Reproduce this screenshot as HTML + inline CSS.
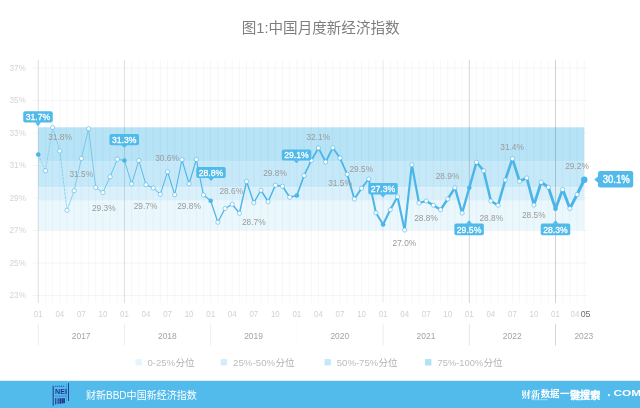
<!DOCTYPE html>
<html lang="zh"><head><meta charset="utf-8"><title>图1:中国月度新经济指数</title>
<style>html,body{margin:0;padding:0;background:#fff;}body{width:640px;height:408px;overflow:hidden;font-family:"Liberation Sans","Noto Sans CJK SC",sans-serif;}svg{display:block;will-change:transform;}</style>
</head><body>
<svg width="640" height="408" viewBox="0 0 640 408">
<rect width="640" height="408" fill="#fff"/>
<path d="M32.5 68.00H587.5M32.5 100.50H587.5M32.5 133.00H587.5M32.5 165.50H587.5M32.5 198.00H587.5M32.5 230.50H587.5M32.5 263.00H587.5M32.5 295.50H587.5" stroke="#000" stroke-opacity="0.045" stroke-width="1" fill="none"/>
<rect x="38.25" y="127.3" width="546.0" height="34.45" fill="#b7e3f7"/>
<rect x="38.25" y="161.75" width="546.0" height="25.75" fill="#c6e9f9"/>
<rect x="38.25" y="187.5" width="546.0" height="13.25" fill="#daf1fb"/>
<rect x="38.25" y="200.75" width="546.0" height="29.44999999999999" fill="#eaf7fd"/>
<path d="M45.43 59.8V303M52.62 59.8V303M59.80 59.8V303M66.99 59.8V303M74.17 59.8V303M81.36 59.8V303M88.54 59.8V303M95.72 59.8V303M102.91 59.8V303M110.09 59.8V303M117.28 59.8V303M131.64 59.8V303M138.83 59.8V303M146.01 59.8V303M153.20 59.8V303M160.38 59.8V303M167.57 59.8V303M174.75 59.8V303M181.93 59.8V303M189.12 59.8V303M196.30 59.8V303M203.49 59.8V303M217.86 59.8V303M225.04 59.8V303M232.22 59.8V303M239.41 59.8V303M246.59 59.8V303M253.78 59.8V303M260.96 59.8V303M268.14 59.8V303M275.33 59.8V303M282.51 59.8V303M289.70 59.8V303M304.07 59.8V303M311.25 59.8V303M318.43 59.8V303M325.62 59.8V303M332.80 59.8V303M339.99 59.8V303M347.17 59.8V303M354.36 59.8V303M361.54 59.8V303M368.72 59.8V303M375.91 59.8V303M390.28 59.8V303M397.46 59.8V303M404.64 59.8V303M411.83 59.8V303M419.01 59.8V303M426.20 59.8V303M433.38 59.8V303M440.57 59.8V303M447.75 59.8V303M454.93 59.8V303M462.12 59.8V303M476.49 59.8V303M483.67 59.8V303M490.86 59.8V303M498.04 59.8V303M505.22 59.8V303M512.41 59.8V303M519.59 59.8V303M526.78 59.8V303M533.96 59.8V303M541.14 59.8V303M548.33 59.8V303M562.70 59.8V303M569.88 59.8V303M577.07 59.8V303M584.25 59.8V303" stroke="#000" stroke-opacity="0.03" stroke-width="1" fill="none"/>
<path d="M38.25 59.8V303" stroke="#000" stroke-opacity="0.13" stroke-width="1" fill="none"/>
<path d="M124.46 59.8V303" stroke="#000" stroke-opacity="0.12" stroke-width="1" fill="none"/>
<path d="M210.67 59.8V303" stroke="#000" stroke-opacity="0.035" stroke-width="1" fill="none"/>
<path d="M296.88 59.8V303" stroke="#000" stroke-opacity="0.035" stroke-width="1" fill="none"/>
<path d="M383.09 59.8V303" stroke="#000" stroke-opacity="0.085" stroke-width="1" fill="none"/>
<path d="M469.30 59.8V303" stroke="#000" stroke-opacity="0.165" stroke-width="1" fill="none"/>
<path d="M555.51 59.8V303" stroke="#000" stroke-opacity="0.175" stroke-width="1" fill="none"/>
<path d="M38.25 323.75V345.5" stroke="#000" stroke-opacity="0.075" stroke-width="1" fill="none"/>
<path d="M124.46 323.75V345.5" stroke="#000" stroke-opacity="0.075" stroke-width="1" fill="none"/>
<path d="M210.67 323.75V345.5" stroke="#000" stroke-opacity="0.065" stroke-width="1" fill="none"/>
<path d="M296.88 323.75V345.5" stroke="#000" stroke-opacity="0.02" stroke-width="1" fill="none"/>
<path d="M383.09 323.75V345.5" stroke="#000" stroke-opacity="0.08" stroke-width="1" fill="none"/>
<path d="M469.30 323.75V345.5" stroke="#000" stroke-opacity="0.1" stroke-width="1" fill="none"/>
<path d="M555.51 323.75V345.5" stroke="#000" stroke-opacity="0.16" stroke-width="1" fill="none"/>
<text x="26" y="70.70" font-family="Liberation Sans, sans-serif" font-size="9.5" fill="#d4d4d4" text-anchor="end" textLength="16.5" lengthAdjust="spacingAndGlyphs">37%</text>
<text x="26" y="103.20" font-family="Liberation Sans, sans-serif" font-size="9.5" fill="#d4d4d4" text-anchor="end" textLength="16.5" lengthAdjust="spacingAndGlyphs">35%</text>
<text x="26" y="135.70" font-family="Liberation Sans, sans-serif" font-size="9.5" fill="#d4d4d4" text-anchor="end" textLength="16.5" lengthAdjust="spacingAndGlyphs">33%</text>
<text x="26" y="168.20" font-family="Liberation Sans, sans-serif" font-size="9.5" fill="#d4d4d4" text-anchor="end" textLength="16.5" lengthAdjust="spacingAndGlyphs">31%</text>
<text x="26" y="200.70" font-family="Liberation Sans, sans-serif" font-size="9.5" fill="#d4d4d4" text-anchor="end" textLength="16.5" lengthAdjust="spacingAndGlyphs">29%</text>
<text x="26" y="233.20" font-family="Liberation Sans, sans-serif" font-size="9.5" fill="#d4d4d4" text-anchor="end" textLength="16.5" lengthAdjust="spacingAndGlyphs">27%</text>
<text x="26" y="265.70" font-family="Liberation Sans, sans-serif" font-size="9.5" fill="#d4d4d4" text-anchor="end" textLength="16.5" lengthAdjust="spacingAndGlyphs">25%</text>
<text x="26" y="298.20" font-family="Liberation Sans, sans-serif" font-size="9.5" fill="#d4d4d4" text-anchor="end" textLength="16.5" lengthAdjust="spacingAndGlyphs">23%</text>
<text x="38.25" y="317.3" font-family="Liberation Sans, sans-serif" font-size="9.6" fill="#d2d2d2" text-anchor="middle" textLength="8.8" lengthAdjust="spacingAndGlyphs">01</text>
<text x="59.80" y="317.3" font-family="Liberation Sans, sans-serif" font-size="9.6" fill="#d2d2d2" text-anchor="middle" textLength="8.8" lengthAdjust="spacingAndGlyphs">04</text>
<text x="81.36" y="317.3" font-family="Liberation Sans, sans-serif" font-size="9.6" fill="#d2d2d2" text-anchor="middle" textLength="8.8" lengthAdjust="spacingAndGlyphs">07</text>
<text x="102.91" y="317.3" font-family="Liberation Sans, sans-serif" font-size="9.6" fill="#d2d2d2" text-anchor="middle" textLength="8.8" lengthAdjust="spacingAndGlyphs">10</text>
<text x="124.46" y="317.3" font-family="Liberation Sans, sans-serif" font-size="9.6" fill="#d2d2d2" text-anchor="middle" textLength="8.8" lengthAdjust="spacingAndGlyphs">01</text>
<text x="146.01" y="317.3" font-family="Liberation Sans, sans-serif" font-size="9.6" fill="#d2d2d2" text-anchor="middle" textLength="8.8" lengthAdjust="spacingAndGlyphs">04</text>
<text x="167.57" y="317.3" font-family="Liberation Sans, sans-serif" font-size="9.6" fill="#d2d2d2" text-anchor="middle" textLength="8.8" lengthAdjust="spacingAndGlyphs">07</text>
<text x="189.12" y="317.3" font-family="Liberation Sans, sans-serif" font-size="9.6" fill="#d2d2d2" text-anchor="middle" textLength="8.8" lengthAdjust="spacingAndGlyphs">10</text>
<text x="210.67" y="317.3" font-family="Liberation Sans, sans-serif" font-size="9.6" fill="#d2d2d2" text-anchor="middle" textLength="8.8" lengthAdjust="spacingAndGlyphs">01</text>
<text x="232.22" y="317.3" font-family="Liberation Sans, sans-serif" font-size="9.6" fill="#d2d2d2" text-anchor="middle" textLength="8.8" lengthAdjust="spacingAndGlyphs">04</text>
<text x="253.78" y="317.3" font-family="Liberation Sans, sans-serif" font-size="9.6" fill="#d2d2d2" text-anchor="middle" textLength="8.8" lengthAdjust="spacingAndGlyphs">07</text>
<text x="275.33" y="317.3" font-family="Liberation Sans, sans-serif" font-size="9.6" fill="#d2d2d2" text-anchor="middle" textLength="8.8" lengthAdjust="spacingAndGlyphs">10</text>
<text x="296.88" y="317.3" font-family="Liberation Sans, sans-serif" font-size="9.6" fill="#d2d2d2" text-anchor="middle" textLength="8.8" lengthAdjust="spacingAndGlyphs">01</text>
<text x="318.43" y="317.3" font-family="Liberation Sans, sans-serif" font-size="9.6" fill="#d2d2d2" text-anchor="middle" textLength="8.8" lengthAdjust="spacingAndGlyphs">04</text>
<text x="339.99" y="317.3" font-family="Liberation Sans, sans-serif" font-size="9.6" fill="#d2d2d2" text-anchor="middle" textLength="8.8" lengthAdjust="spacingAndGlyphs">07</text>
<text x="361.54" y="317.3" font-family="Liberation Sans, sans-serif" font-size="9.6" fill="#d2d2d2" text-anchor="middle" textLength="8.8" lengthAdjust="spacingAndGlyphs">10</text>
<text x="383.09" y="317.3" font-family="Liberation Sans, sans-serif" font-size="9.6" fill="#d2d2d2" text-anchor="middle" textLength="8.8" lengthAdjust="spacingAndGlyphs">01</text>
<text x="404.64" y="317.3" font-family="Liberation Sans, sans-serif" font-size="9.6" fill="#d2d2d2" text-anchor="middle" textLength="8.8" lengthAdjust="spacingAndGlyphs">04</text>
<text x="426.20" y="317.3" font-family="Liberation Sans, sans-serif" font-size="9.6" fill="#d2d2d2" text-anchor="middle" textLength="8.8" lengthAdjust="spacingAndGlyphs">07</text>
<text x="447.75" y="317.3" font-family="Liberation Sans, sans-serif" font-size="9.6" fill="#d2d2d2" text-anchor="middle" textLength="8.8" lengthAdjust="spacingAndGlyphs">10</text>
<text x="469.30" y="317.3" font-family="Liberation Sans, sans-serif" font-size="9.6" fill="#d2d2d2" text-anchor="middle" textLength="8.8" lengthAdjust="spacingAndGlyphs">01</text>
<text x="490.86" y="317.3" font-family="Liberation Sans, sans-serif" font-size="9.6" fill="#d2d2d2" text-anchor="middle" textLength="8.8" lengthAdjust="spacingAndGlyphs">04</text>
<text x="512.41" y="317.3" font-family="Liberation Sans, sans-serif" font-size="9.6" fill="#d2d2d2" text-anchor="middle" textLength="8.8" lengthAdjust="spacingAndGlyphs">07</text>
<text x="533.96" y="317.3" font-family="Liberation Sans, sans-serif" font-size="9.6" fill="#d2d2d2" text-anchor="middle" textLength="8.8" lengthAdjust="spacingAndGlyphs">10</text>
<text x="555.51" y="317.3" font-family="Liberation Sans, sans-serif" font-size="9.6" fill="#d2d2d2" text-anchor="middle" textLength="8.8" lengthAdjust="spacingAndGlyphs">01</text>
<text x="575.00" y="317.3" font-family="Liberation Sans, sans-serif" font-size="9.6" fill="#d2d2d2" text-anchor="middle" textLength="8.8" lengthAdjust="spacingAndGlyphs">04</text>
<text x="585.6" y="317.3" font-family="Liberation Sans, sans-serif" font-size="9.6" fill="#6e6e6e" text-anchor="middle" textLength="9.8" lengthAdjust="spacingAndGlyphs">05</text>
<text x="81.16" y="338.7" font-family="Liberation Sans, sans-serif" font-size="9.9" fill="#a4a4a4" text-anchor="middle" textLength="18.8" lengthAdjust="spacingAndGlyphs">2017</text>
<text x="167.37" y="338.7" font-family="Liberation Sans, sans-serif" font-size="9.9" fill="#a4a4a4" text-anchor="middle" textLength="18.8" lengthAdjust="spacingAndGlyphs">2018</text>
<text x="253.58" y="338.7" font-family="Liberation Sans, sans-serif" font-size="9.9" fill="#a4a4a4" text-anchor="middle" textLength="18.8" lengthAdjust="spacingAndGlyphs">2019</text>
<text x="339.79" y="338.7" font-family="Liberation Sans, sans-serif" font-size="9.9" fill="#a4a4a4" text-anchor="middle" textLength="18.8" lengthAdjust="spacingAndGlyphs">2020</text>
<text x="426.00" y="338.7" font-family="Liberation Sans, sans-serif" font-size="9.9" fill="#a4a4a4" text-anchor="middle" textLength="18.8" lengthAdjust="spacingAndGlyphs">2021</text>
<text x="512.21" y="338.7" font-family="Liberation Sans, sans-serif" font-size="9.9" fill="#a4a4a4" text-anchor="middle" textLength="18.8" lengthAdjust="spacingAndGlyphs">2022</text>
<text x="583.80" y="338.7" font-family="Liberation Sans, sans-serif" font-size="9.9" fill="#a4a4a4" text-anchor="middle" textLength="18.8" lengthAdjust="spacingAndGlyphs">2023</text>
<path d="M38.25 154.5L45.43 170.75" stroke="#4ab5e8" stroke-width="0.40" stroke-linecap="round" fill="none" stroke-dasharray="2.2 1.6"/>
<path d="M45.43 170.75L52.62 127.5" stroke="#4ab5e8" stroke-width="0.43" stroke-linecap="round" fill="none" stroke-dasharray="2.2 1.6"/>
<path d="M52.62 127.5L59.80 151" stroke="#4ab5e8" stroke-width="0.47" stroke-linecap="round" fill="none" stroke-dasharray="2.2 1.6"/>
<path d="M59.80 151L66.99 210.25" stroke="#4ab5e8" stroke-width="0.50" stroke-linecap="round" fill="none" stroke-dasharray="2.2 1.6"/>
<path d="M66.99 210.25L74.17 190.75" stroke="#4ab5e8" stroke-width="0.54" stroke-linecap="round" fill="none"/>
<path d="M74.17 190.75L81.36 158.5" stroke="#4ab5e8" stroke-width="0.57" stroke-linecap="round" fill="none"/>
<path d="M81.36 158.5L88.54 128.75" stroke="#4ab5e8" stroke-width="0.60" stroke-linecap="round" fill="none"/>
<path d="M88.54 128.75L95.72 187.5" stroke="#4ab5e8" stroke-width="0.64" stroke-linecap="round" fill="none"/>
<path d="M95.72 187.5L102.91 192.5" stroke="#4ab5e8" stroke-width="0.67" stroke-linecap="round" fill="none"/>
<path d="M102.91 192.5L110.09 176.75" stroke="#4ab5e8" stroke-width="0.71" stroke-linecap="round" fill="none"/>
<path d="M110.09 176.75L117.28 159.25" stroke="#4ab5e8" stroke-width="0.74" stroke-linecap="round" fill="none"/>
<path d="M117.28 159.25L124.46 160.5" stroke="#4ab5e8" stroke-width="0.78" stroke-linecap="round" fill="none"/>
<path d="M124.46 160.5L131.64 184" stroke="#4ab5e8" stroke-width="0.81" stroke-linecap="round" fill="none"/>
<path d="M131.64 184L138.83 160.5" stroke="#4ab5e8" stroke-width="0.85" stroke-linecap="round" fill="none"/>
<path d="M138.83 160.5L146.01 184.75" stroke="#4ab5e8" stroke-width="0.88" stroke-linecap="round" fill="none"/>
<path d="M146.01 184.75L153.20 188" stroke="#4ab5e8" stroke-width="0.91" stroke-linecap="round" fill="none"/>
<path d="M153.20 188L160.38 194.25" stroke="#4ab5e8" stroke-width="0.95" stroke-linecap="round" fill="none"/>
<path d="M160.38 194.25L167.57 171.75" stroke="#4ab5e8" stroke-width="0.98" stroke-linecap="round" fill="none"/>
<path d="M167.57 171.75L174.75 194.75" stroke="#4ab5e8" stroke-width="1.02" stroke-linecap="round" fill="none"/>
<path d="M174.75 194.75L181.93 159.75" stroke="#4ab5e8" stroke-width="1.05" stroke-linecap="round" fill="none"/>
<path d="M181.93 159.75L189.12 183.75" stroke="#4ab5e8" stroke-width="1.09" stroke-linecap="round" fill="none"/>
<path d="M189.12 183.75L196.30 159.5" stroke="#4ab5e8" stroke-width="1.12" stroke-linecap="round" fill="none"/>
<path d="M196.30 159.5L203.49 195" stroke="#4ab5e8" stroke-width="1.16" stroke-linecap="round" fill="none"/>
<path d="M203.49 195L210.67 200.75" stroke="#4ab5e8" stroke-width="1.19" stroke-linecap="round" fill="none"/>
<path d="M210.67 200.75L217.86 222.25" stroke="#4ab5e8" stroke-width="1.22" stroke-linecap="round" fill="none"/>
<path d="M217.86 222.25L225.04 208.5" stroke="#4ab5e8" stroke-width="1.26" stroke-linecap="round" fill="none"/>
<path d="M225.04 208.5L232.22 204.25" stroke="#4ab5e8" stroke-width="1.29" stroke-linecap="round" fill="none"/>
<path d="M232.22 204.25L239.41 213.25" stroke="#4ab5e8" stroke-width="1.33" stroke-linecap="round" fill="none"/>
<path d="M239.41 213.25L246.59 181.5" stroke="#4ab5e8" stroke-width="1.36" stroke-linecap="round" fill="none"/>
<path d="M246.59 181.5L253.78 202.75" stroke="#4ab5e8" stroke-width="1.40" stroke-linecap="round" fill="none"/>
<path d="M253.78 202.75L260.96 190.25" stroke="#4ab5e8" stroke-width="1.43" stroke-linecap="round" fill="none"/>
<path d="M260.96 190.25L268.14 201.75" stroke="#4ab5e8" stroke-width="1.47" stroke-linecap="round" fill="none"/>
<path d="M268.14 201.75L275.33 185.25" stroke="#4ab5e8" stroke-width="1.50" stroke-linecap="round" fill="none"/>
<path d="M275.33 185.25L282.51 186.25" stroke="#4ab5e8" stroke-width="1.53" stroke-linecap="round" fill="none"/>
<path d="M282.51 186.25L289.70 197.25" stroke="#4ab5e8" stroke-width="1.57" stroke-linecap="round" fill="none"/>
<path d="M289.70 197.25L296.88 195.5" stroke="#4ab5e8" stroke-width="1.60" stroke-linecap="round" fill="none"/>
<path d="M296.88 195.5L304.07 175.5" stroke="#4ab5e8" stroke-width="1.64" stroke-linecap="round" fill="none"/>
<path d="M304.07 175.5L311.25 160.5" stroke="#4ab5e8" stroke-width="1.67" stroke-linecap="round" fill="none"/>
<path d="M311.25 160.5L318.43 148" stroke="#4ab5e8" stroke-width="1.71" stroke-linecap="round" fill="none"/>
<path d="M318.43 148L325.62 162" stroke="#4ab5e8" stroke-width="1.74" stroke-linecap="round" fill="none"/>
<path d="M325.62 162L332.80 147.75" stroke="#4ab5e8" stroke-width="1.78" stroke-linecap="round" fill="none"/>
<path d="M332.80 147.75L339.99 158" stroke="#4ab5e8" stroke-width="1.81" stroke-linecap="round" fill="none"/>
<path d="M339.99 158L347.17 174.25" stroke="#4ab5e8" stroke-width="1.85" stroke-linecap="round" fill="none"/>
<path d="M347.17 174.25L354.36 199" stroke="#4ab5e8" stroke-width="1.88" stroke-linecap="round" fill="none"/>
<path d="M354.36 199L361.54 188.25" stroke="#4ab5e8" stroke-width="1.91" stroke-linecap="round" fill="none"/>
<path d="M361.54 188.25L368.72 179" stroke="#4ab5e8" stroke-width="1.95" stroke-linecap="round" fill="none"/>
<path d="M368.72 179L375.91 212.75" stroke="#4ab5e8" stroke-width="1.98" stroke-linecap="round" fill="none"/>
<path d="M375.91 212.75L383.09 224.5" stroke="#4ab5e8" stroke-width="2.02" stroke-linecap="round" fill="none"/>
<path d="M383.09 224.5L390.28 209.75" stroke="#4ab5e8" stroke-width="2.05" stroke-linecap="round" fill="none"/>
<path d="M390.28 209.75L397.46 196.75" stroke="#4ab5e8" stroke-width="2.09" stroke-linecap="round" fill="none"/>
<path d="M397.46 196.75L404.64 230" stroke="#4ab5e8" stroke-width="2.12" stroke-linecap="round" fill="none"/>
<path d="M404.64 230L411.83 164.75" stroke="#4ab5e8" stroke-width="2.16" stroke-linecap="round" fill="none"/>
<path d="M411.83 164.75L419.01 203" stroke="#4ab5e8" stroke-width="2.19" stroke-linecap="round" fill="none"/>
<path d="M419.01 203L426.20 201" stroke="#4ab5e8" stroke-width="2.22" stroke-linecap="round" fill="none"/>
<path d="M426.20 201L433.38 205.25" stroke="#4ab5e8" stroke-width="2.26" stroke-linecap="round" fill="none"/>
<path d="M433.38 205.25L440.57 209.75" stroke="#4ab5e8" stroke-width="2.29" stroke-linecap="round" fill="none"/>
<path d="M440.57 209.75L447.75 199" stroke="#4ab5e8" stroke-width="2.33" stroke-linecap="round" fill="none"/>
<path d="M447.75 199L454.93 187.75" stroke="#4ab5e8" stroke-width="2.36" stroke-linecap="round" fill="none"/>
<path d="M454.93 187.75L462.12 213" stroke="#4ab5e8" stroke-width="2.40" stroke-linecap="round" fill="none"/>
<path d="M462.12 213L469.30 187.75" stroke="#4ab5e8" stroke-width="2.43" stroke-linecap="round" fill="none"/>
<path d="M469.30 187.75L476.49 162.25" stroke="#4ab5e8" stroke-width="2.47" stroke-linecap="round" fill="none"/>
<path d="M476.49 162.25L483.67 170.75" stroke="#4ab5e8" stroke-width="2.50" stroke-linecap="round" fill="none"/>
<path d="M483.67 170.75L490.86 201" stroke="#4ab5e8" stroke-width="2.53" stroke-linecap="round" fill="none"/>
<path d="M490.86 201L498.04 205.25" stroke="#4ab5e8" stroke-width="2.57" stroke-linecap="round" fill="none"/>
<path d="M498.04 205.25L505.22 180" stroke="#4ab5e8" stroke-width="2.60" stroke-linecap="round" fill="none"/>
<path d="M505.22 180L512.41 158.75" stroke="#4ab5e8" stroke-width="2.64" stroke-linecap="round" fill="none"/>
<path d="M512.41 158.75L519.59 181.25" stroke="#4ab5e8" stroke-width="2.67" stroke-linecap="round" fill="none"/>
<path d="M519.59 181.25L526.78 178" stroke="#4ab5e8" stroke-width="2.71" stroke-linecap="round" fill="none"/>
<path d="M526.78 178L533.96 205" stroke="#4ab5e8" stroke-width="2.74" stroke-linecap="round" fill="none"/>
<path d="M533.96 205L541.14 182.25" stroke="#4ab5e8" stroke-width="2.78" stroke-linecap="round" fill="none"/>
<path d="M541.14 182.25L548.33 187.25" stroke="#4ab5e8" stroke-width="2.81" stroke-linecap="round" fill="none"/>
<path d="M548.33 187.25L555.51 208.75" stroke="#4ab5e8" stroke-width="2.84" stroke-linecap="round" fill="none"/>
<path d="M555.51 208.75L562.70 189.5" stroke="#4ab5e8" stroke-width="2.88" stroke-linecap="round" fill="none"/>
<path d="M562.70 189.5L569.88 208.5" stroke="#4ab5e8" stroke-width="2.91" stroke-linecap="round" fill="none"/>
<path d="M569.88 208.5L577.07 194.5" stroke="#4ab5e8" stroke-width="2.95" stroke-linecap="round" fill="none"/>
<path d="M577.07 194.5L584.25 179.75" stroke="#4ab5e8" stroke-width="2.98" stroke-linecap="round" fill="none"/>
<circle cx="45.43" cy="170.75" r="2.1" fill="#fff" stroke="#4ab5e8" stroke-width="0.6"/>
<circle cx="52.62" cy="127.5" r="2.1" fill="#fff" stroke="#4ab5e8" stroke-width="0.6"/>
<circle cx="59.80" cy="151" r="2.1" fill="#fff" stroke="#4ab5e8" stroke-width="0.6"/>
<circle cx="66.99" cy="210.25" r="2.1" fill="#fff" stroke="#4ab5e8" stroke-width="0.6"/>
<circle cx="74.17" cy="190.75" r="2.1" fill="#fff" stroke="#4ab5e8" stroke-width="0.6"/>
<circle cx="81.36" cy="158.5" r="2.1" fill="#fff" stroke="#4ab5e8" stroke-width="0.6"/>
<circle cx="88.54" cy="128.75" r="2.1" fill="#fff" stroke="#4ab5e8" stroke-width="0.6"/>
<circle cx="95.72" cy="187.5" r="2.1" fill="#fff" stroke="#4ab5e8" stroke-width="0.6"/>
<circle cx="102.91" cy="192.5" r="2.1" fill="#fff" stroke="#4ab5e8" stroke-width="0.6"/>
<circle cx="110.09" cy="176.75" r="2.1" fill="#fff" stroke="#4ab5e8" stroke-width="0.6"/>
<circle cx="117.28" cy="159.25" r="2.1" fill="#fff" stroke="#4ab5e8" stroke-width="0.6"/>
<circle cx="131.64" cy="184" r="2.1" fill="#fff" stroke="#4ab5e8" stroke-width="0.6"/>
<circle cx="138.83" cy="160.5" r="2.1" fill="#fff" stroke="#4ab5e8" stroke-width="0.6"/>
<circle cx="146.01" cy="184.75" r="2.1" fill="#fff" stroke="#4ab5e8" stroke-width="0.6"/>
<circle cx="153.20" cy="188" r="2.1" fill="#fff" stroke="#4ab5e8" stroke-width="0.6"/>
<circle cx="160.38" cy="194.25" r="2.1" fill="#fff" stroke="#4ab5e8" stroke-width="0.6"/>
<circle cx="167.57" cy="171.75" r="2.1" fill="#fff" stroke="#4ab5e8" stroke-width="0.6"/>
<circle cx="174.75" cy="194.75" r="2.1" fill="#fff" stroke="#4ab5e8" stroke-width="0.6"/>
<circle cx="181.93" cy="159.75" r="2.1" fill="#fff" stroke="#4ab5e8" stroke-width="0.6"/>
<circle cx="189.12" cy="183.75" r="2.1" fill="#fff" stroke="#4ab5e8" stroke-width="0.6"/>
<circle cx="196.30" cy="159.5" r="2.1" fill="#fff" stroke="#4ab5e8" stroke-width="0.6"/>
<circle cx="203.49" cy="195" r="2.1" fill="#fff" stroke="#4ab5e8" stroke-width="0.6"/>
<circle cx="217.86" cy="222.25" r="2.1" fill="#fff" stroke="#4ab5e8" stroke-width="0.6"/>
<circle cx="225.04" cy="208.5" r="2.1" fill="#fff" stroke="#4ab5e8" stroke-width="0.6"/>
<circle cx="232.22" cy="204.25" r="2.1" fill="#fff" stroke="#4ab5e8" stroke-width="0.6"/>
<circle cx="239.41" cy="213.25" r="2.1" fill="#fff" stroke="#4ab5e8" stroke-width="0.6"/>
<circle cx="246.59" cy="181.5" r="2.1" fill="#fff" stroke="#4ab5e8" stroke-width="0.6"/>
<circle cx="253.78" cy="202.75" r="2.1" fill="#fff" stroke="#4ab5e8" stroke-width="0.6"/>
<circle cx="260.96" cy="190.25" r="2.1" fill="#fff" stroke="#4ab5e8" stroke-width="0.6"/>
<circle cx="268.14" cy="201.75" r="2.1" fill="#fff" stroke="#4ab5e8" stroke-width="0.6"/>
<circle cx="275.33" cy="185.25" r="2.1" fill="#fff" stroke="#4ab5e8" stroke-width="0.6"/>
<circle cx="282.51" cy="186.25" r="2.1" fill="#fff" stroke="#4ab5e8" stroke-width="0.6"/>
<circle cx="289.70" cy="197.25" r="2.1" fill="#fff" stroke="#4ab5e8" stroke-width="0.6"/>
<circle cx="304.07" cy="175.5" r="2.1" fill="#fff" stroke="#4ab5e8" stroke-width="0.6"/>
<circle cx="311.25" cy="160.5" r="2.1" fill="#fff" stroke="#4ab5e8" stroke-width="0.6"/>
<circle cx="318.43" cy="148" r="2.1" fill="#fff" stroke="#4ab5e8" stroke-width="0.6"/>
<circle cx="325.62" cy="162" r="2.1" fill="#fff" stroke="#4ab5e8" stroke-width="0.6"/>
<circle cx="332.80" cy="147.75" r="2.1" fill="#fff" stroke="#4ab5e8" stroke-width="0.6"/>
<circle cx="339.99" cy="158" r="2.1" fill="#fff" stroke="#4ab5e8" stroke-width="0.6"/>
<circle cx="347.17" cy="174.25" r="2.1" fill="#fff" stroke="#4ab5e8" stroke-width="0.6"/>
<circle cx="354.36" cy="199" r="2.1" fill="#fff" stroke="#4ab5e8" stroke-width="0.6"/>
<circle cx="361.54" cy="188.25" r="2.1" fill="#fff" stroke="#4ab5e8" stroke-width="0.6"/>
<circle cx="368.72" cy="179" r="2.1" fill="#fff" stroke="#4ab5e8" stroke-width="0.6"/>
<circle cx="375.91" cy="212.75" r="2.1" fill="#fff" stroke="#4ab5e8" stroke-width="0.6"/>
<circle cx="390.28" cy="209.75" r="2.1" fill="#fff" stroke="#4ab5e8" stroke-width="0.6"/>
<circle cx="397.46" cy="196.75" r="2.1" fill="#fff" stroke="#4ab5e8" stroke-width="0.6"/>
<circle cx="404.64" cy="230" r="2.1" fill="#fff" stroke="#4ab5e8" stroke-width="0.6"/>
<circle cx="411.83" cy="164.75" r="2.1" fill="#fff" stroke="#4ab5e8" stroke-width="0.6"/>
<circle cx="419.01" cy="203" r="2.1" fill="#fff" stroke="#4ab5e8" stroke-width="0.6"/>
<circle cx="426.20" cy="201" r="2.1" fill="#fff" stroke="#4ab5e8" stroke-width="0.6"/>
<circle cx="433.38" cy="205.25" r="2.1" fill="#fff" stroke="#4ab5e8" stroke-width="0.6"/>
<circle cx="440.57" cy="209.75" r="2.1" fill="#fff" stroke="#4ab5e8" stroke-width="0.6"/>
<circle cx="447.75" cy="199" r="2.1" fill="#fff" stroke="#4ab5e8" stroke-width="0.6"/>
<circle cx="454.93" cy="187.75" r="2.1" fill="#fff" stroke="#4ab5e8" stroke-width="0.6"/>
<circle cx="462.12" cy="213" r="2.1" fill="#fff" stroke="#4ab5e8" stroke-width="0.6"/>
<circle cx="476.49" cy="162.25" r="2.1" fill="#fff" stroke="#4ab5e8" stroke-width="0.6"/>
<circle cx="483.67" cy="170.75" r="2.1" fill="#fff" stroke="#4ab5e8" stroke-width="0.6"/>
<circle cx="490.86" cy="201" r="2.1" fill="#fff" stroke="#4ab5e8" stroke-width="0.6"/>
<circle cx="498.04" cy="205.25" r="2.1" fill="#fff" stroke="#4ab5e8" stroke-width="0.6"/>
<circle cx="505.22" cy="180" r="2.1" fill="#fff" stroke="#4ab5e8" stroke-width="0.6"/>
<circle cx="512.41" cy="158.75" r="2.1" fill="#fff" stroke="#4ab5e8" stroke-width="0.6"/>
<circle cx="519.59" cy="181.25" r="2.1" fill="#fff" stroke="#4ab5e8" stroke-width="0.6"/>
<circle cx="526.78" cy="178" r="2.1" fill="#fff" stroke="#4ab5e8" stroke-width="0.6"/>
<circle cx="533.96" cy="205" r="2.1" fill="#fff" stroke="#4ab5e8" stroke-width="0.6"/>
<circle cx="541.14" cy="182.25" r="2.1" fill="#fff" stroke="#4ab5e8" stroke-width="0.6"/>
<circle cx="548.33" cy="187.25" r="2.1" fill="#fff" stroke="#4ab5e8" stroke-width="0.6"/>
<circle cx="562.70" cy="189.5" r="2.1" fill="#fff" stroke="#4ab5e8" stroke-width="0.6"/>
<circle cx="569.88" cy="208.5" r="2.1" fill="#fff" stroke="#4ab5e8" stroke-width="0.6"/>
<circle cx="577.07" cy="194.5" r="2.1" fill="#fff" stroke="#4ab5e8" stroke-width="0.6"/>
<circle cx="38.25" cy="154.5" r="2.3" fill="#4ab5e8"/>
<circle cx="296.88" cy="195.5" r="2.3" fill="#4ab5e8"/>
<circle cx="555.51" cy="208.75" r="2.3" fill="#4ab5e8"/>
<circle cx="124.46" cy="160.5" r="2.3" fill="#4ab5e8"/>
<circle cx="584.25" cy="179.75" r="3.2" fill="#4ab5e8"/>
<circle cx="383.09" cy="224.5" r="2.3" fill="#4ab5e8"/>
<circle cx="210.67" cy="200.75" r="2.3" fill="#4ab5e8"/>
<circle cx="469.30" cy="187.75" r="2.3" fill="#4ab5e8"/>
<text x="60" y="139.80" font-family="Liberation Sans, sans-serif" font-size="9.5" fill="#9a9a9a" text-anchor="middle" textLength="23.6" lengthAdjust="spacingAndGlyphs">31.8%</text>
<text x="81.25" y="176.80" font-family="Liberation Sans, sans-serif" font-size="9.5" fill="#9a9a9a" text-anchor="middle" textLength="23.6" lengthAdjust="spacingAndGlyphs">31.5%</text>
<text x="103.75" y="210.55" font-family="Liberation Sans, sans-serif" font-size="9.5" fill="#9a9a9a" text-anchor="middle" textLength="23.6" lengthAdjust="spacingAndGlyphs">29.3%</text>
<text x="145.5" y="208.55" font-family="Liberation Sans, sans-serif" font-size="9.5" fill="#9a9a9a" text-anchor="middle" textLength="23.6" lengthAdjust="spacingAndGlyphs">29.7%</text>
<text x="167" y="160.55" font-family="Liberation Sans, sans-serif" font-size="9.5" fill="#9a9a9a" text-anchor="middle" textLength="23.6" lengthAdjust="spacingAndGlyphs">30.6%</text>
<text x="189" y="208.55" font-family="Liberation Sans, sans-serif" font-size="9.5" fill="#9a9a9a" text-anchor="middle" textLength="23.6" lengthAdjust="spacingAndGlyphs">29.8%</text>
<text x="231.25" y="194.05" font-family="Liberation Sans, sans-serif" font-size="9.5" fill="#9a9a9a" text-anchor="middle" textLength="23.6" lengthAdjust="spacingAndGlyphs">28.6%</text>
<text x="253.75" y="224.55" font-family="Liberation Sans, sans-serif" font-size="9.5" fill="#9a9a9a" text-anchor="middle" textLength="23.6" lengthAdjust="spacingAndGlyphs">28.7%</text>
<text x="275" y="176.30" font-family="Liberation Sans, sans-serif" font-size="9.5" fill="#9a9a9a" text-anchor="middle" textLength="23.6" lengthAdjust="spacingAndGlyphs">29.8%</text>
<text x="318.25" y="139.55" font-family="Liberation Sans, sans-serif" font-size="9.5" fill="#9a9a9a" text-anchor="middle" textLength="23.6" lengthAdjust="spacingAndGlyphs">32.1%</text>
<text x="340" y="185.55" font-family="Liberation Sans, sans-serif" font-size="9.5" fill="#9a9a9a" text-anchor="middle" textLength="23.6" lengthAdjust="spacingAndGlyphs">31.5%</text>
<text x="361.25" y="171.80" font-family="Liberation Sans, sans-serif" font-size="9.5" fill="#9a9a9a" text-anchor="middle" textLength="23.6" lengthAdjust="spacingAndGlyphs">29.5%</text>
<text x="404.4" y="246.20" font-family="Liberation Sans, sans-serif" font-size="9.5" fill="#9a9a9a" text-anchor="middle" textLength="23.6" lengthAdjust="spacingAndGlyphs">27.0%</text>
<text x="426" y="220.55" font-family="Liberation Sans, sans-serif" font-size="9.5" fill="#9a9a9a" text-anchor="middle" textLength="23.6" lengthAdjust="spacingAndGlyphs">28.8%</text>
<text x="447.5" y="179.30" font-family="Liberation Sans, sans-serif" font-size="9.5" fill="#9a9a9a" text-anchor="middle" textLength="23.6" lengthAdjust="spacingAndGlyphs">28.9%</text>
<text x="491.25" y="220.55" font-family="Liberation Sans, sans-serif" font-size="9.5" fill="#9a9a9a" text-anchor="middle" textLength="23.6" lengthAdjust="spacingAndGlyphs">28.8%</text>
<text x="512.1" y="149.90" font-family="Liberation Sans, sans-serif" font-size="9.5" fill="#9a9a9a" text-anchor="middle" textLength="23.6" lengthAdjust="spacingAndGlyphs">31.4%</text>
<text x="533.75" y="217.55" font-family="Liberation Sans, sans-serif" font-size="9.5" fill="#9a9a9a" text-anchor="middle" textLength="23.6" lengthAdjust="spacingAndGlyphs">28.5%</text>
<text x="577" y="169.40" font-family="Liberation Sans, sans-serif" font-size="9.5" fill="#9a9a9a" text-anchor="middle" textLength="23.6" lengthAdjust="spacingAndGlyphs">29.2%</text>
<rect x="23.25" y="111.25" width="29.5" height="11.25" rx="2" fill="#50baeb"/>
<path d="M35.0 122.2L38.0 126.25L41.0 122.2Z" fill="#50baeb"/>
<text x="38.0" y="120.17" font-family="Liberation Sans, sans-serif" font-size="9.6" fill="#fff" stroke="#fff" stroke-width="0.3" text-anchor="middle" textLength="24.6" lengthAdjust="spacingAndGlyphs">31.7%</text>
<rect x="109.50" y="133.9" width="29.5" height="11.299999999999983" rx="2" fill="#50baeb"/>
<path d="M121.25 144.89999999999998L124.25 147.75L127.25 144.89999999999998Z" fill="#50baeb"/>
<text x="124.25" y="142.85" font-family="Liberation Sans, sans-serif" font-size="9.6" fill="#fff" stroke="#fff" stroke-width="0.3" text-anchor="middle" textLength="24.6" lengthAdjust="spacingAndGlyphs">31.3%</text>
<rect x="196.25" y="167" width="29.5" height="11" rx="2" fill="#50baeb"/>
<path d="M208 177.7L211 181L214 177.7Z" fill="#50baeb"/>
<text x="211" y="175.80" font-family="Liberation Sans, sans-serif" font-size="9.6" fill="#fff" stroke="#fff" stroke-width="0.3" text-anchor="middle" textLength="24.6" lengthAdjust="spacingAndGlyphs">28.8%</text>
<rect x="281.75" y="149.5" width="29.5" height="11.0" rx="2" fill="#50baeb"/>
<path d="M293.5 160.2L296.5 163.25L299.5 160.2Z" fill="#50baeb"/>
<text x="296.5" y="158.30" font-family="Liberation Sans, sans-serif" font-size="9.6" fill="#fff" stroke="#fff" stroke-width="0.3" text-anchor="middle" textLength="24.6" lengthAdjust="spacingAndGlyphs">29.1%</text>
<rect x="368.25" y="183" width="29.5" height="11.5" rx="2" fill="#50baeb"/>
<path d="M380 194.2L383 197.5L386 194.2Z" fill="#50baeb"/>
<text x="383" y="192.05" font-family="Liberation Sans, sans-serif" font-size="9.6" fill="#fff" stroke="#fff" stroke-width="0.3" text-anchor="middle" textLength="24.6" lengthAdjust="spacingAndGlyphs">27.3%</text>
<rect x="454.35" y="223.4" width="29.5" height="11.799999999999983" rx="2" fill="#50baeb"/>
<path d="M466.1 223.70000000000002L469.1 220.25L472.1 223.70000000000002Z" fill="#50baeb"/>
<text x="469.1" y="232.60" font-family="Liberation Sans, sans-serif" font-size="9.6" fill="#fff" stroke="#fff" stroke-width="0.3" text-anchor="middle" textLength="24.6" lengthAdjust="spacingAndGlyphs">29.5%</text>
<rect x="540.75" y="223.4" width="29.5" height="11.799999999999983" rx="2" fill="#50baeb"/>
<path d="M552.5 223.70000000000002L555.5 220.25L558.5 223.70000000000002Z" fill="#50baeb"/>
<text x="555.5" y="232.60" font-family="Liberation Sans, sans-serif" font-size="9.6" fill="#fff" stroke="#fff" stroke-width="0.3" text-anchor="middle" textLength="24.6" lengthAdjust="spacingAndGlyphs">28.3%</text>
<rect x="598.0" y="171.1" width="35.2" height="16.4" rx="2.2" fill="#50baeb"/>
<path d="M598.6 176L594.25 179.6L598.6 183.2Z" fill="#50baeb"/>
<text x="616.3" y="183.0" font-family="Liberation Sans, sans-serif" font-size="10.8" fill="#fff" stroke="#fff" stroke-width="0.4" text-anchor="middle" textLength="27.2" lengthAdjust="spacingAndGlyphs">30.1%</text>
<text x="241.8" y="32.5" font-family="'Liberation Sans', 'Noto Sans CJK SC', sans-serif" font-size="14.6" fill="#7e7e7e" textLength="157.8" lengthAdjust="spacingAndGlyphs">图1:中国月度新经济指数</text>
<rect x="135.5" y="359.1" width="6.4" height="6.4" fill="#e6f5fd"/>
<text x="147.5" y="366" font-family="Liberation Sans, sans-serif" font-size="9.6" fill="#bcbcbc" textLength="27.70" lengthAdjust="spacingAndGlyphs">0-25%</text>
<text x="175.5" y="366.1" font-family="'Liberation Sans', 'Noto Sans CJK SC', sans-serif" font-size="9.6" fill="#b0b0b0" textLength="19.2" lengthAdjust="spacingAndGlyphs">分位</text>
<rect x="220.75" y="359.1" width="6.4" height="6.4" fill="#d3eefa"/>
<text x="233" y="366" font-family="Liberation Sans, sans-serif" font-size="9.6" fill="#bcbcbc" textLength="42.20" lengthAdjust="spacingAndGlyphs">25%-50%</text>
<text x="275.5" y="366.1" font-family="'Liberation Sans', 'Noto Sans CJK SC', sans-serif" font-size="9.6" fill="#b0b0b0" textLength="19.2" lengthAdjust="spacingAndGlyphs">分位</text>
<rect x="324.5" y="359.1" width="6.4" height="6.4" fill="#c3e8f9"/>
<text x="336.75" y="366" font-family="Liberation Sans, sans-serif" font-size="9.6" fill="#bcbcbc" textLength="41.45" lengthAdjust="spacingAndGlyphs">50%-75%</text>
<text x="378.5" y="366.1" font-family="'Liberation Sans', 'Noto Sans CJK SC', sans-serif" font-size="9.6" fill="#b0b0b0" textLength="19.2" lengthAdjust="spacingAndGlyphs">分位</text>
<rect x="425" y="359.1" width="6.4" height="6.4" fill="#b3e1f6"/>
<text x="437.5" y="366" font-family="Liberation Sans, sans-serif" font-size="9.6" fill="#bcbcbc" textLength="45.70" lengthAdjust="spacingAndGlyphs">75%-100%</text>
<text x="483.5" y="366.1" font-family="'Liberation Sans', 'Noto Sans CJK SC', sans-serif" font-size="9.6" fill="#b0b0b0" textLength="19.2" lengthAdjust="spacingAndGlyphs">分位</text>
<rect x="0" y="380.8" width="640" height="27.2" fill="#52bbeb"/>
<rect x="52.7" y="385.8" width="0.95" height="19.9" fill="#20308a"/>
<rect x="68.0" y="383.1" width="0.85" height="17.9" fill="#20308a"/>
<rect x="66.0" y="384.2" width="0.6" height="17.0" fill="#3f8fd8"/>
<path d="M55.1 386.2H64.8" stroke="#20308a" stroke-width="1.1" stroke-dasharray="1.2 0.7" opacity="0.8"/>
<text x="55.1" y="393.9" font-family="Liberation Sans, sans-serif" font-size="7.7" font-weight="bold" fill="#20308a" textLength="11.9" lengthAdjust="spacingAndGlyphs">NEI</text>
<path d="M55.2 396.1H66.6" stroke="#4f62b8" stroke-width="1.1" stroke-dasharray="1.4 0.5" opacity="0.7"/>
<rect x="55.0" y="398.2" width="0.8" height="6.2" fill="#20308a"/>
<rect x="56.7" y="398.2" width="0.7" height="5.9" fill="#20308a"/>
<rect x="58.1" y="398.2" width="0.7" height="5.7" fill="#20308a"/>
<rect x="59.5" y="398.2" width="1.6" height="5.5" fill="#20308a"/>
<rect x="61.5" y="398.2" width="1.4" height="5.3" fill="#20308a"/>
<rect x="63.2" y="398.2" width="1.7" height="5.0" fill="#20308a"/>
<text x="85.9" y="398.8" font-family="'Liberation Sans', 'Noto Sans CJK SC', sans-serif" font-size="10" fill="#fff" textLength="111" lengthAdjust="spacingAndGlyphs">财新BBD中国新经济指数</text>
<text x="521.4" y="397.6" font-family="'Liberation Serif', 'Noto Serif CJK SC', serif" font-size="9.6" font-weight="bold" fill="#fff" textLength="18.8" lengthAdjust="spacingAndGlyphs">财新</text>
<path d="M531.5 399.6H548" stroke="#fff" stroke-width="1.3" stroke-dasharray="1.1 0.5" opacity="0.55"/>
<text x="540.7" y="397.4" font-family="'Liberation Sans', 'Noto Sans CJK SC', sans-serif" font-size="9.6" font-weight="bold" fill="#fff" textLength="18.8" lengthAdjust="spacingAndGlyphs">数据</text>
<text x="560" y="397.4" font-family="'Liberation Sans', 'Noto Sans CJK SC', sans-serif" font-size="9.6" font-weight="bold" fill="#fff" textLength="9.6" lengthAdjust="spacingAndGlyphs">一</text>
<text x="570" y="398.8" font-family="'Liberation Sans', 'Noto Sans CJK SC', sans-serif" font-size="10.2" font-weight="bold" fill="#fff" stroke="#fff" stroke-width="0.35" textLength="30.3" lengthAdjust="spacingAndGlyphs">键搜索</text>
<circle cx="608.9" cy="395.1" r="1.05" fill="#fff"/>
<text x="613.4" y="396" font-family="Liberation Sans, sans-serif" font-size="9.8" font-weight="bold" fill="#fff" textLength="27.6" lengthAdjust="spacingAndGlyphs">COM</text>
</svg>
</body></html>
